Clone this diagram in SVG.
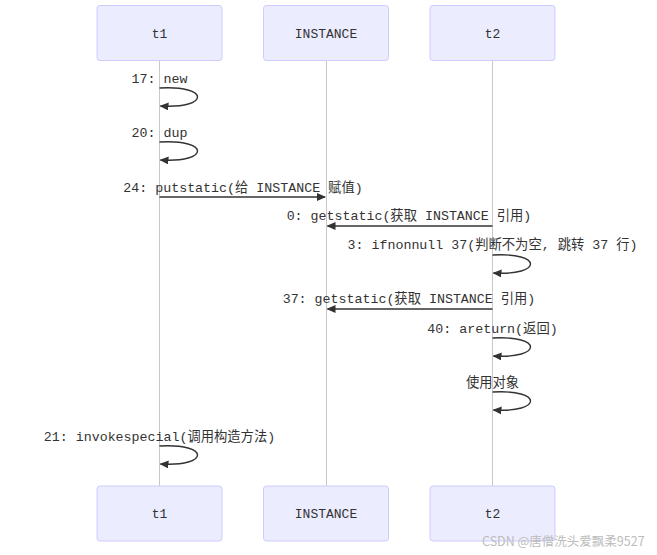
<svg xmlns="http://www.w3.org/2000/svg" width="657" height="555" viewBox="0 0 657 555">
<style>
.actor rect{fill:#ECECFF;stroke:#CCCCFF;stroke-width:1}
.actor text{font-family:"Liberation Mono","Noto Sans CJK SC",monospace;font-size:13px;fill:#333;text-anchor:middle}
.life{stroke:#c8c8c8;stroke-width:1}
.msg{fill:none;stroke:#333;stroke-width:1.4}
.lbl{font-family:"Liberation Mono","Noto Sans CJK SC",monospace;font-size:13.3px;fill:#333;text-anchor:middle}
.wm{font-family:"Noto Sans CJK SC",sans-serif;font-size:12.5px;fill:#bcbcbc}
</style>
<defs>
<marker id="arr" markerUnits="userSpaceOnUse" markerWidth="9" markerHeight="8" refX="8" refY="4" orient="auto">
<path d="M0,0 L9,4 L0,8 z" fill="#333"/>
</marker>
</defs>
<g id="lifelines">
<line class="life" x1="159.5" y1="60" x2="159.5" y2="486"/>
<line class="life" x1="326.5" y1="60" x2="326.5" y2="486"/>
<line class="life" x1="492.5" y1="60" x2="492.5" y2="486"/>
</g>
<g id="t1-top" class="actor"><rect x="97" y="5.5" width="125" height="55" rx="3"/><text x="159.5" y="38">t1</text></g>
<g id="instance-top" class="actor"><rect x="263.5" y="5.5" width="125" height="55" rx="3"/><text x="326" y="38">INSTANCE</text></g>
<g id="t2-top" class="actor"><rect x="430" y="5.5" width="125" height="55" rx="3"/><text x="492.5" y="38">t2</text></g>
<g id="t1-bottom" class="actor"><rect x="97" y="486" width="125" height="55" rx="3"/><text x="159.5" y="518">t1</text></g>
<g id="instance-bottom" class="actor"><rect x="263.5" y="486" width="125" height="55" rx="3"/><text x="326" y="518">INSTANCE</text></g>
<g id="t2-bottom" class="actor"><rect x="430" y="486" width="125" height="55" rx="3"/><text x="492.5" y="518">t2</text></g>
<g id="connectors">
<path class="msg" d="M159.5,88 C210,85 210,109 160.5,106" marker-end="url(#arr)"/>
<path class="msg" d="M159.5,142 C210,139 210,163 160.5,160" marker-end="url(#arr)"/>
<line class="msg" x1="159.5" y1="197" x2="325" y2="197" marker-end="url(#arr)"/>
<line class="msg" x1="492.5" y1="226" x2="327.5" y2="226" marker-end="url(#arr)"/>
<path class="msg" d="M492.5,255 C543,252 543,276 493.5,273" marker-end="url(#arr)"/>
<line class="msg" x1="492.5" y1="309" x2="327.5" y2="309" marker-end="url(#arr)"/>
<path class="msg" d="M492.5,338 C543,335 543,359 493.5,356" marker-end="url(#arr)"/>
<path class="msg" d="M492.5,392 C543,389 543,413 493.5,410" marker-end="url(#arr)"/>
<path class="msg" d="M159.5,446 C210,443 210,467 160.5,464" marker-end="url(#arr)"/>
</g>
<g id="labels">
<text class="lbl" x="159.5" y="83">17: new</text>
<text class="lbl" x="159.5" y="137">20: dup</text>
<text class="lbl" x="243" y="192">24: putstatic(给 INSTANCE 赋值)</text>
<text class="lbl" x="409" y="220">0: getstatic(获取 INSTANCE 引用)</text>
<text class="lbl" x="492.5" y="249">3: ifnonnull 37(判断不为空, 跳转 37 行)</text>
<text class="lbl" x="409" y="303">37: getstatic(获取 INSTANCE 引用)</text>
<text class="lbl" x="492.5" y="333">40: areturn(返回)</text>
<text class="lbl" x="492.5" y="387">使用对象</text>
<text class="lbl" x="159.5" y="441">21: invokespecial(调用构造方法)</text>
</g>
<text class="wm" x="482" y="546">CSDN @唐僧洗头爱飘柔9527</text>
</svg>
